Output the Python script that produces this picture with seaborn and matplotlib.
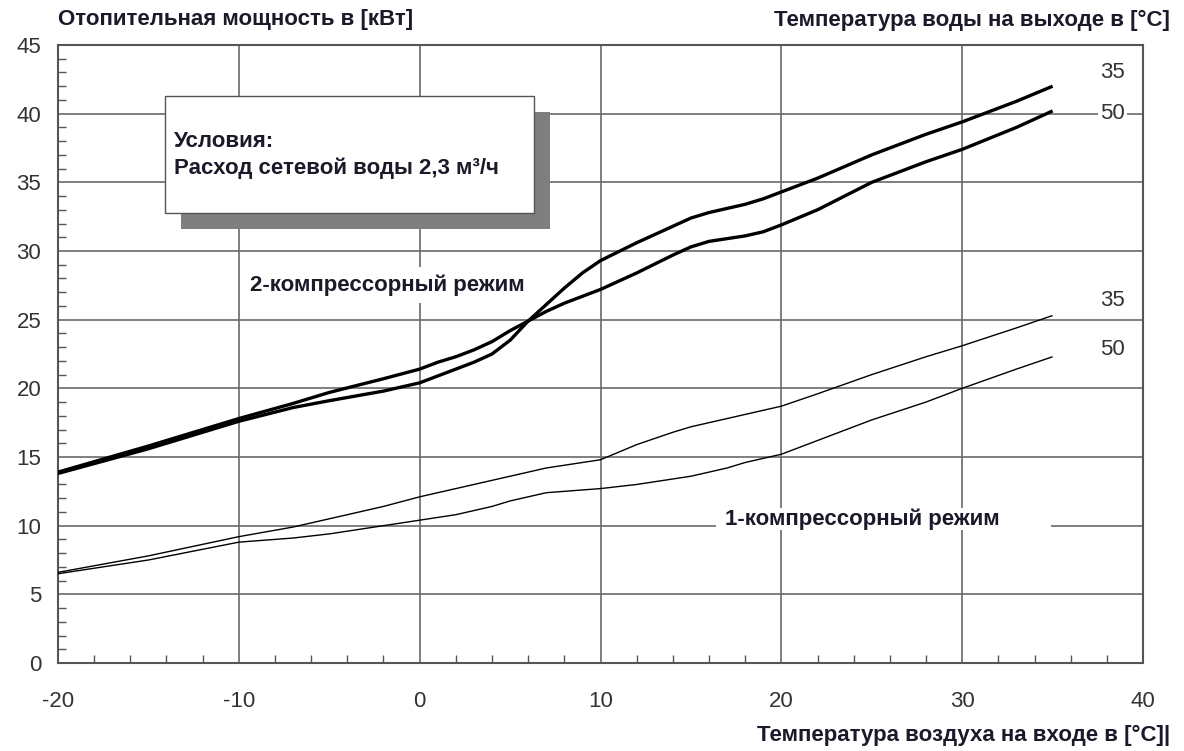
import matplotlib
matplotlib.use("Agg")
import matplotlib.pyplot as plt
from matplotlib.patches import Rectangle
from matplotlib.ticker import MultipleLocator
import seaborn as sns
import pandas as pd

# ---- data ----
air_temp = [-20, -15, -10, -7, -5, -2, 0, 1, 2, 3, 4, 5, 6, 7, 8, 9, 10, 12, 14, 15,
            16, 17, 18, 19, 20, 22, 25, 28, 30, 33, 35]
two_comp_35 = [13.8, 15.6, 17.6, 18.6, 19.1, 19.8, 20.4, 20.9, 21.4, 21.9, 22.5, 23.5, 24.9,
               26.1, 27.3, 28.4, 29.3, 30.6, 31.8, 32.4, 32.8, 33.1, 33.4, 33.8, 34.3, 35.3,
               37.0, 38.5, 39.4, 40.9, 42.0]
two_comp_50 = [13.9, 15.8, 17.8, 18.9, 19.7, 20.7, 21.4, 21.9, 22.3, 22.8, 23.4, 24.2, 24.9,
               25.6, 26.2, 26.7, 27.2, 28.4, 29.7, 30.3, 30.7, 30.9, 31.1, 31.4, 31.9, 33.0,
               35.0, 36.5, 37.4, 39.0, 40.2]
one_comp_35 = [6.6, 7.8, 9.2, 9.9, 10.5, 11.4, 12.1, 12.4, 12.7, 13.0, 13.3, 13.6, 13.9, 14.2,
               14.4, 14.6, 14.8, 15.9, 16.8, 17.2, 17.5, 17.8, 18.1, 18.4, 18.7, 19.6, 21.0,
               22.3, 23.1, 24.4, 25.3]
one_comp_50 = [6.5, 7.5, 8.8, 9.1, 9.4, 10.0, 10.4, 10.6, 10.8, 11.1, 11.4, 11.8, 12.1, 12.4,
               12.5, 12.6, 12.7, 13.0, 13.4, 13.6, 13.9, 14.2, 14.6, 14.9, 15.2, 16.2, 17.7,
               19.0, 20.0, 21.4, 22.3]
x_ticks = [-20, -10, 0, 10, 20, 30, 40]
y_ticks = [0, 5, 10, 15, 20, 25, 30, 35, 40, 45]
end_labels = ["35", "50"]

title_left = "Отопительная мощность в [кВт]"
title_right = "Температура воды на выходе в [°C]"
xlabel = "Температура воздуха на входе в [°C]|"
cond_title = "Условия:"
cond_text = "Расход сетевой воды 2,3 м³/ч"
mode2 = "2-компрессорный режим"
mode1 = "1-компрессорный режим"

# ---- style ----
sns.set_style("white")
plt.rcParams["font.family"] = ["Liberation Sans", "DejaVu Sans"]
plt.rcParams["axes.unicode_minus"] = False

fig = plt.figure(figsize=(11.84, 7.51), dpi=100)
ax = fig.add_axes([58 / 1184, 1 - 663 / 751, (1143 - 58) / 1184, (663 - 45) / 751])

df = pd.DataFrame({"x": air_temp, "a": two_comp_35, "b": two_comp_50,
                   "c": one_comp_35, "d": one_comp_50})
for col, lw in [("a", 2.4), ("b", 2.4), ("c", 1.0), ("d", 1.0)]:
    sns.lineplot(data=df, x="x", y=col, ax=ax, color="black", lw=lw, zorder=5,
                 solid_capstyle="butt")

ax.set_xlim(-20, 40)
ax.set_ylim(0, 45)
ax.set_xticks(x_ticks)
ax.set_yticks(y_ticks)
ax.xaxis.set_minor_locator(MultipleLocator(2))
ax.yaxis.set_minor_locator(MultipleLocator(1))
ax.grid(True, which="major", color="#6a6a6a", lw=1.2, zorder=0)
ax.set_axisbelow(True)
ax.tick_params(which="major", length=0, labelsize=16, labelcolor="#333333")
ax.tick_params(axis="x", which="major", pad=20)
ax.tick_params(axis="y", which="major", pad=12)
ax.tick_params(which="minor", direction="in", length=6, width=1, color="#555555",
               bottom=True, left=True, top=False, right=False)
for s in ax.spines.values():
    s.set_color("#555555")
    s.set_linewidth(1.5)
ax.set_xlabel("")
ax.set_ylabel("")

# conditions box with shadow
ax.add_patch(Rectangle((-13.2, 31.6), 20.4, 8.5, facecolor="#7f7f7f", edgecolor="none", zorder=3))
ax.add_patch(Rectangle((-14.1, 32.8), 20.4, 8.5, facecolor="white", edgecolor="#555555",
                       lw=1.0, zorder=4))
tkw = dict(fontsize=16, fontweight="bold", color="#1a1a2a", zorder=6)
ax.text(-13.6, 38.0, cond_title, va="center", ha="left", **tkw)
ax.text(-13.6, 36.0, cond_text, va="center", ha="left", **tkw)

# mode labels on white patches
ax.add_patch(Rectangle((-9.8, 26.2), 16.5, 2.6, facecolor="white", edgecolor="none", zorder=2))
ax.text(-9.4, 27.5, mode2, va="center", ha="left", **tkw)
ax.add_patch(Rectangle((16.4, 9.7), 18.5, 1.6, facecolor="white", edgecolor="none", zorder=2))
ax.text(16.9, 10.45, mode1, va="center", ha="left", **tkw)

# end labels
lkw = dict(fontsize=16, color="#333333", va="center", ha="center", zorder=6)
ax.text(38.3, 43.0, end_labels[0], **lkw)
ax.text(38.3, 40.0, end_labels[1], bbox=dict(facecolor="white", edgecolor="none", pad=1.5), **lkw)
ax.text(38.3, 26.4, end_labels[0], **lkw)
ax.text(38.3, 22.8, end_labels[1], **lkw)

# titles
fig.text(58 / 1184, 1 - 20 / 751, title_left, ha="left", va="center", fontsize=16,
         fontweight="bold", color="#1a1a2a")
fig.text(1170 / 1184, 1 - 20 / 751, title_right, ha="right", va="center", fontsize=16,
         fontweight="bold", color="#1a1a2a")
fig.text(1170 / 1184, 1 - 735 / 751, xlabel, ha="right", va="center", fontsize=16,
         fontweight="bold", color="#1a1a2a")

fig.savefig("out.png", dpi=100)
